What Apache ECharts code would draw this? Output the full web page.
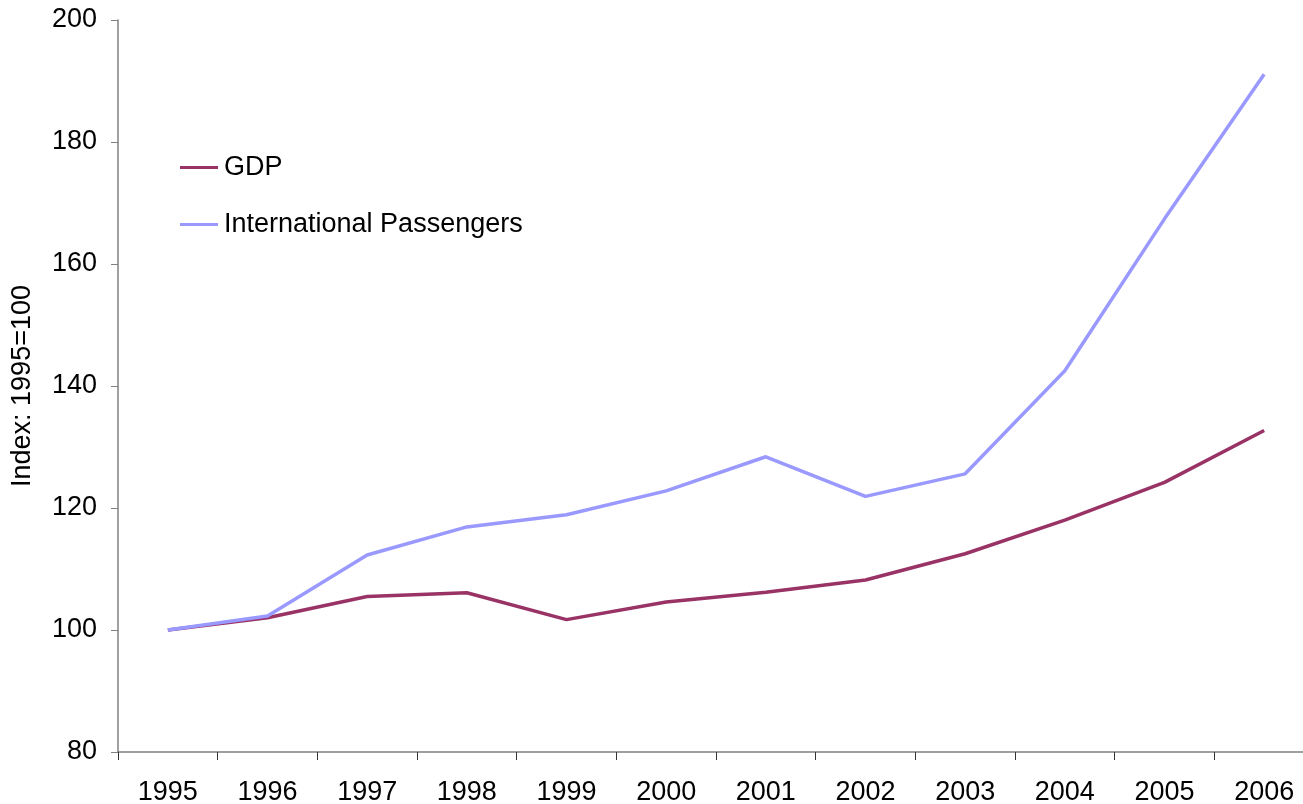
<!DOCTYPE html>
<html>
<head>
<meta charset="utf-8">
<script src="https://cdn.jsdelivr.net/npm/echarts@6/dist/echarts.min.js"></script>
<style>
html,body{margin:0;padding:0;background:#fff;}
#chart{width:1303px;height:804px;}
</style>
</head>
<body>
<div id="chart"></div>
<script>
const years = ['1995','1996','1997','1998','1999','2000','2001','2002','2003','2004','2005','2006'];
const gdp = [100, 102.0, 105.5, 106.1, 101.7, 104.6, 106.2, 108.2, 112.5, 118.0, 124.2, 132.7];
const passengers = [100, 102.3, 112.3, 116.9, 118.9, 122.8, 128.4, 121.9, 125.6, 142.5, 167.4, 191.1];
const yTicks = [80, 100, 120, 140, 160, 180, 200];

const font = 'Liberation Sans, Arial, sans-serif';
const chart = echarts.init(document.getElementById('chart'));
chart.setOption({
  animation: false,
  grid: {left: 118, top: 20, height: 732, width: 1196, containLabel: false, outerBoundsMode: 'none'},
  legend: {
    orient: 'vertical', left: 180, top: 154, padding: 0,
    itemWidth: 38, itemHeight: 3, itemGap: 30,
    icon: 'rect',
    textStyle: {fontFamily: font, fontSize: 27, color: '#000', padding: [0,0,0,1]},
    data: ['GDP', 'International Passengers']
  },
  xAxis: {
    type: 'category', data: years, boundaryGap: true,
    axisLine: {lineStyle: {color: '#808080', width: 1.5}},
    axisTick: {show: true, length: 8, alignWithLabel: false, lineStyle: {color: '#333'}},
    axisLabel: {fontFamily: font, fontSize: 27, color: '#000', margin: 27, interval: 0},
    splitLine: {show: false}
  },
  yAxis: {
    type: 'value', min: yTicks[0], max: yTicks[yTicks.length-1], interval: 20,
    name: 'Index: 1995=100', nameLocation: 'middle', nameGap: 82,
    nameTextStyle: {fontFamily: font, fontSize: 27, color: '#000'},
    axisLine: {show: true, lineStyle: {color: '#808080', width: 1.5}},
    axisTick: {show: true, length: 7, lineStyle: {color: '#808080'}},
    axisLabel: {fontFamily: font, fontSize: 27, color: '#000', margin: 21},
    splitLine: {show: false}
  },
  series: [
    {name: 'GDP', type: 'line', data: gdp, symbol: 'none', lineStyle: {color: '#993366', width: 3.5}, itemStyle: {color: '#993366'}},
    {name: 'International Passengers', type: 'line', data: passengers, symbol: 'none', lineStyle: {color: '#9999FF', width: 3.5}, itemStyle: {color: '#9999FF'}}
  ]
});
</script>
</body>
</html>
